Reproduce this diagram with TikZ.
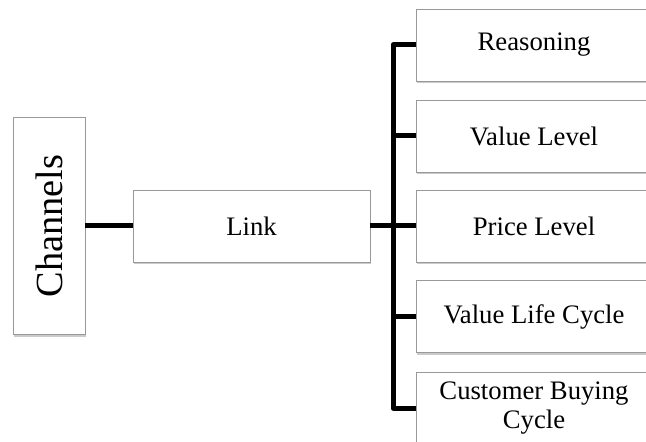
\documentclass[tikz,border=0pt]{standalone}
\usepackage{fontspec}
\setmainfont{Liberation Serif}
\usetikzlibrary{shadows}
\tikzset{
  box/.style={draw=black!40, line width=0.8bp, fill=white, rectangle,
    minimum width=237bp, minimum height=72bp, inner sep=2bp, align=center,
    font=\fontsize{26.8}{30}\selectfont,
    drop shadow={shadow xshift=1bp, shadow yshift=-2.5bp, opacity=0.35, fill=black!60}},
  conn/.style={line width=5bp, line join=round, draw=black}
}
\begin{document}
\begin{tikzpicture}[x=1bp, y=-1bp]
\useasboundingbox (0,0) rectangle (646,442);
\clip (0,0) rectangle (646,442);
\node[box, minimum width=72bp, minimum height=217bp, font=\fontsize{38.5}{40}\selectfont] (ch) at (49,226) {\rotatebox{90}{Channels}};
\node[box] (link) at (251.5,226) {Link};
\node[box, minimum width=236bp] (reason) at (534,45) {Reasoning};
\node[box, minimum width=236bp] (value) at (534,136) {Value Level};
\node[box, minimum width=236bp] (price) at (534,226) {Price Level};
\node[box, minimum width=236bp] (vlc) at (534,316.5) {Value Life Cycle};
\node[box, minimum width=236bp] (cbc) at (534,408) {Customer Buying\\Cycle};
\coordinate (tx) at (393,0);
\draw[conn] (ch.east) -- (link.west);
\draw[conn] (link.east) -- (price.west);
\draw[conn] (reason.west) -- (reason.west -| tx) -- (cbc.west -| tx) -- (cbc.west);
\draw[conn] (value.west) -- (value.west -| tx);
\draw[conn] (vlc.west) -- (vlc.west -| tx);
\end{tikzpicture}
\end{document}
